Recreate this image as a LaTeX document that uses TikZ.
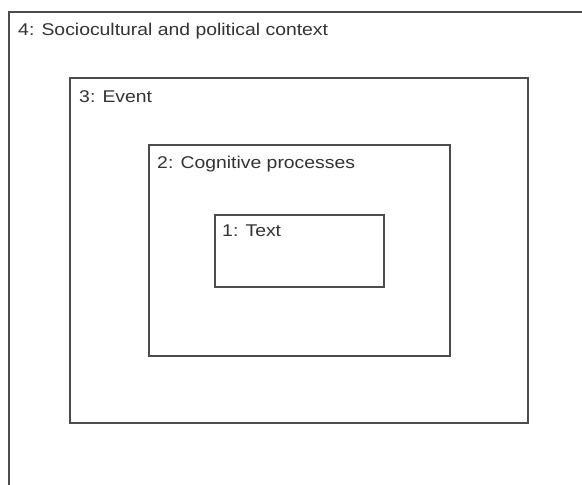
\documentclass[tikz,border=0pt]{standalone}
\usepackage{fontspec}
\setmainfont{Liberation Sans}
\begin{document}
\begin{tikzpicture}[x=1pt,y=-1pt,
  frame/.style={draw=black!70,line width=1.2pt},
  lbl/.style={anchor=north west,inner sep=0pt,text=black!80,xscale=1.14,font=\fontsize{17}{20}\selectfont}]
\useasboundingbox (0,0) rectangle (582,485);
\begin{scope}
\clip (0,0) rectangle (582,485);
\draw[frame] (9,12) rectangle (600,500);
\end{scope}
\draw[frame] (70,78) rectangle (528,423);
\draw[frame] (149,145) rectangle (450,356);
\draw[frame] (215,215) rectangle (384,287);
\node[lbl] (l4) at (18,23) {4: Sociocultural and political context};
\node[lbl] (l3) at (79,90) {3: Event};
\node[lbl] (l2) at (157,156) {2: Cognitive processes};
\node[lbl] (l1) at (222,225) {1: Text};
\end{tikzpicture}
\end{document}
